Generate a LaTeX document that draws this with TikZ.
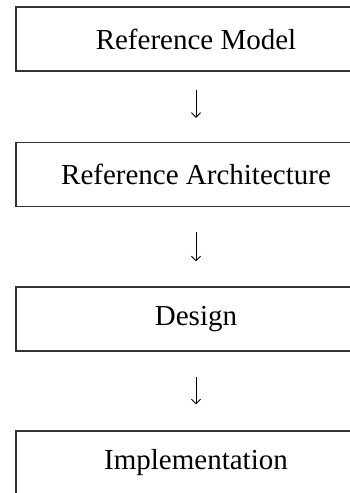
\documentclass[tikz,border=0pt]{standalone}
\usepackage{fontspec}
\setmainfont{Liberation Serif}
\usetikzlibrary{arrows.meta}
\begin{document}
\begin{tikzpicture}[x=1pt,y=-1pt,
  stage/.style={draw=black!80,line width=1.3pt,rectangle,minimum width=360pt,minimum height=64pt,
    inner sep=0pt,font=\fontsize{29}{34}\selectfont},
  flow/.style={-{Straight Barb[length=4.5pt,width=9pt]},line width=0.9pt}]
\useasboundingbox (0,0) rectangle (350,493);
\clip (0,0) rectangle (350,493);

\node[stage] (model) at (196,39) {Reference Model};
\node[stage] (arch) at (196,174.5) {Reference Architecture};
\node[stage] (design) at (196,319) {Design};
\node[stage] (impl) at (196,463) {Implementation};

\draw[flow,shorten <=18pt,shorten >=24pt] (model) -- (arch);
\draw[flow,shorten <=25pt,shorten >=25pt] (arch) -- (design);
\draw[flow,shorten <=25pt,shorten >=26pt] (design) -- (impl);
\end{tikzpicture}
\end{document}
